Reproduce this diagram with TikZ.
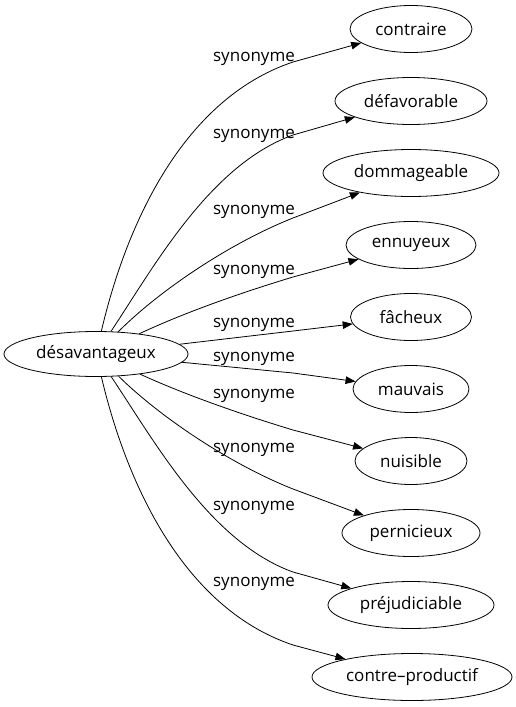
\documentclass[tikz,border=0pt]{standalone}
\usepackage{fontspec}
\setmainfont{Open Sans}
\usetikzlibrary{shapes.geometric,arrows.meta}
\begin{document}
\begin{tikzpicture}[x=1pt,y=-1pt,
  every node/.style={font=\fontsize{17}{20}\selectfont},
  word/.style={draw,ellipse,line width=0.8pt,inner sep=0pt,minimum height=47pt},
  lab/.style={inner sep=0pt,yshift=-2pt},
  edge/.style={draw,line width=0.8pt,-{Triangle[length=10pt,width=7.5pt]}}]
\useasboundingbox (0,0) rectangle (515,707);
\node[word,minimum width=184pt,minimum height=45pt] (src) at (96,354) {désavantageux};
\node[word,minimum width=122pt] (t1) at (411,29) {contraire};
\node[word,minimum width=152pt] (t2) at (411,101) {défavorable};
\node[word,minimum width=176pt] (t3) at (411,173) {dommageable};
\node[word,minimum width=130pt] (t4) at (411,245) {ennuyeux};
\node[word,minimum width=121pt] (t5) at (411,317) {fâcheux};
\node[word,minimum width=116pt] (t6) at (411,389) {mauvais};
\node[word,minimum width=112pt] (t7) at (411,461) {nuisible};
\node[word,minimum width=138pt] (t8) at (411,533) {pernicieux};
\node[word,minimum width=166pt] (t9) at (411,605) {préjudiciable};
\node[word,minimum width=200pt] (t10) at (412,677) {contre–productif};
\node[lab] (l1) at (254,57) {synonyme};
\node[lab] (l2) at (254,134) {synonyme};
\node[lab] (l3) at (254,210) {synonyme};
\node[lab] (l4) at (254,270) {synonyme};
\node[lab] (l5) at (254,323) {synonyme};
\node[lab] (l6) at (254,357) {synonyme};
\node[lab] (l7) at (254,394) {synonyme};
\node[lab] (l8) at (254,448) {synonyme};
\node[lab] (l9) at (254,506) {synonyme};
\node[lab] (l10) at (254,582) {synonyme};
\coordinate (m1) at (293,62);
\coordinate (m2) at (293,135);
\coordinate (m3) at (293,218);
\coordinate (m4) at (293,277);
\coordinate (m5) at (293,331);
\coordinate (m6) at (293,373);
\coordinate (m7) at (293,430);
\coordinate (m8) at (293,489);
\coordinate (m9) at (293,572);
\coordinate (m10) at (293,645);
\path[edge] (src) .. controls (125,230) and (180,100) .. (m1) -- (t1);
\path[edge] (src) .. controls (155,265) and (210,165) .. (m2) -- (t2);
\path[edge] (src) .. controls (160,290) and (230,243) .. (m3) -- (t3);
\path[edge] (src) .. controls (190,310) and (250,290) .. (m4) -- (t4);
\path[edge] (src) -- (m5) -- (t5);
\path[edge] (src) -- (m6) -- (t6);
\path[edge] (src) .. controls (190,397) and (250,417) .. (m7) -- (t7);
\path[edge] (src) .. controls (160,417) and (230,464) .. (m8) -- (t8);
\path[edge] (src) .. controls (155,442) and (210,542) .. (m9) -- (t9);
\path[edge] (src) .. controls (125,477) and (180,607) .. (m10) -- (t10);
\end{tikzpicture}
\end{document}
